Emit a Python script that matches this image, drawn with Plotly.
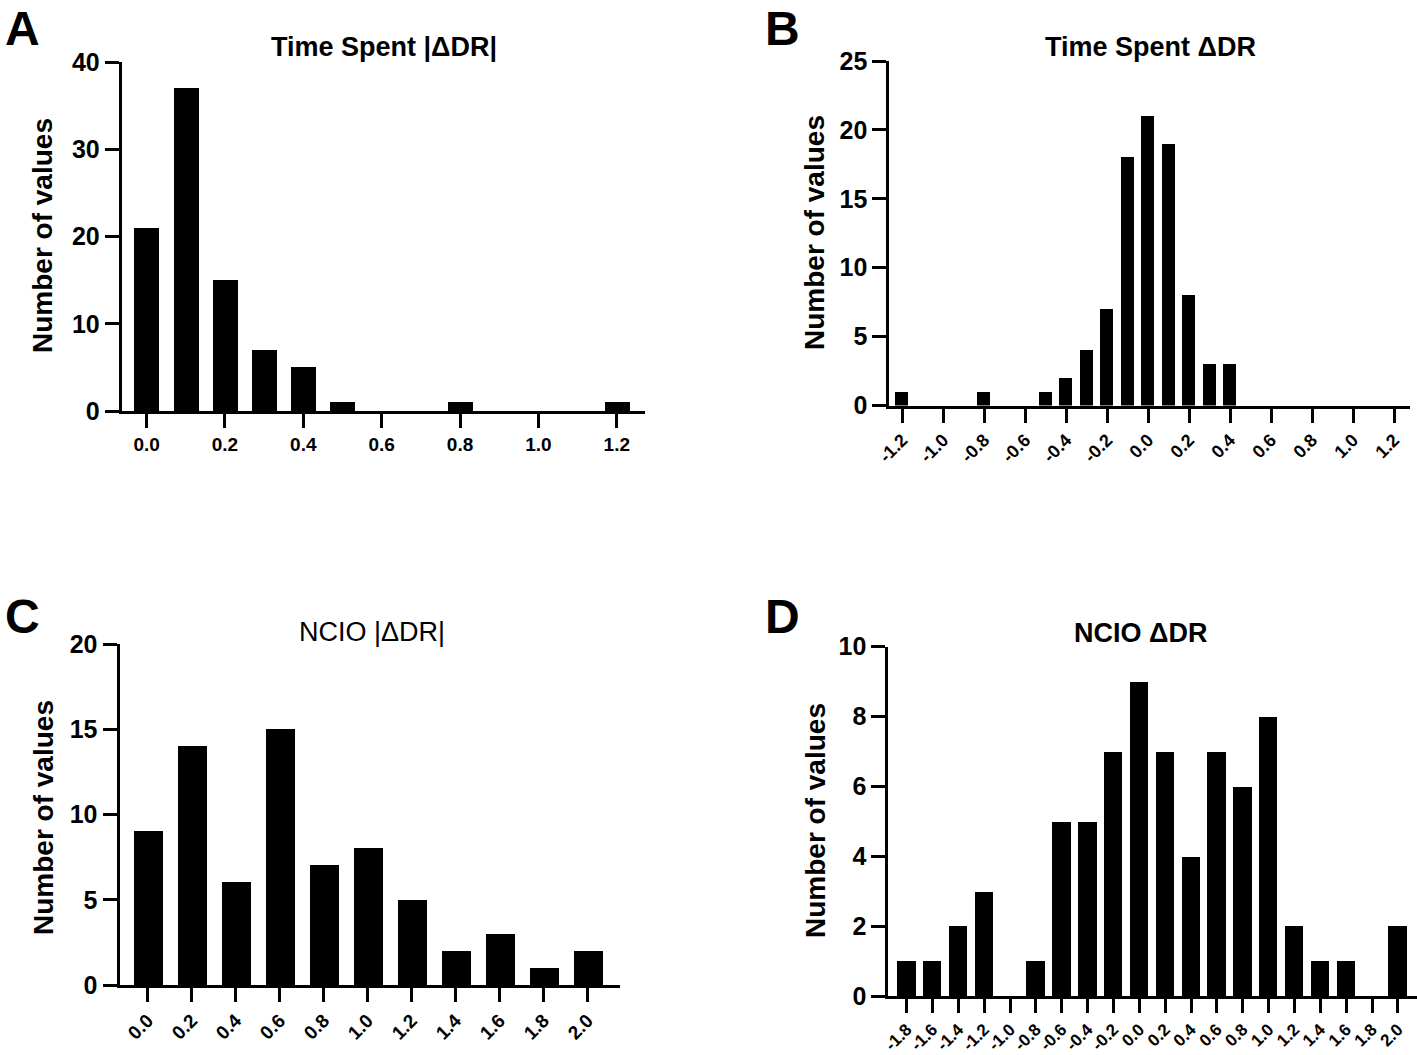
import plotly.graph_objects as go
from plotly.subplots import make_subplots

# panel A - Time Spent |dDR|
a_x = [0.0, 0.1, 0.2, 0.3, 0.4, 0.5, 0.8, 1.2]
a_counts = [21, 37, 15, 7, 5, 1, 1, 1]
a_ticks = [0.0, 0.2, 0.4, 0.6, 0.8, 1.0, 1.2]

# panel B - Time Spent dDR
b_x = [-1.2, -0.8, -0.5, -0.4, -0.3, -0.2, -0.1, 0.0, 0.1, 0.2, 0.3, 0.4]
b_counts = [1, 1, 1, 2, 4, 7, 18, 21, 19, 8, 3, 3]
b_ticks = [-1.2, -1.0, -0.8, -0.6, -0.4, -0.2, 0.0, 0.2, 0.4, 0.6, 0.8, 1.0, 1.2]

# panel C - NCIO |dDR|
c_x = [0.0, 0.2, 0.4, 0.6, 0.8, 1.0, 1.2, 1.4, 1.6, 1.8, 2.0]
c_counts = [9, 14, 6, 15, 7, 8, 5, 2, 3, 1, 2]
c_ticks = c_x

# panel D - NCIO dDR
d_x = [-1.8, -1.6, -1.4, -1.2, -1.0, -0.8, -0.6, -0.4, -0.2, 0.0,
       0.2, 0.4, 0.6, 0.8, 1.0, 1.2, 1.4, 1.6, 1.8, 2.0]
d_counts = [1, 1, 2, 3, 0, 1, 5, 5, 7, 9, 7, 4, 7, 6, 8, 2, 1, 1, 0, 2]
d_ticks = d_x

W, H = 1417, 1055
FONT = "Liberation Sans, Arial, sans-serif"


def px(x):
    return x / W


def py(y):
    return 1 - y / H


fig = make_subplots(rows=2, cols=2)

panels = [
    # data, ticks, bar width, x range, y range, y dtick, domains (px), tick font, angle
    (a_x, a_counts, a_ticks, 0.0635, [-0.0635, 1.272], [0, 40], 10,
     [121.7, 645], [62, 411], 19, 0),
    (b_x, b_counts, b_ticks, 0.063, [-1.263, 1.278], [0, 25], 5,
     [889.3, 1410], [61, 405.5], 18, -45),
    (c_x, c_counts, c_ticks, 0.131, [-0.128, 2.145], [0, 20], 5,
     [119.5, 619.5], [644.3, 985], 19, -45),
    (d_x, d_counts, d_ticks, 0.142, [-1.942, 2.148], [0, 10], 2,
     [888.3, 1417], [646.7, 996], 17, -45),
]

for i, (xs, ys, ticks, bw, xr, yr, dt, xd, yd, tf, ang) in enumerate(panels):
    r, c = i // 2 + 1, i % 2 + 1
    fig.add_trace(go.Bar(x=xs, y=ys, width=bw, marker=dict(color="black", line=dict(width=0)),
                         showlegend=False), row=r, col=c)
    fig.update_xaxes(range=xr, domain=[px(xd[0]), px(xd[1])], tickvals=ticks,
                     ticktext=[f"{t:.1f}" for t in ticks], tickangle=ang,
                     showline=True, linewidth=3, linecolor="black", ticks="outside",
                     ticklen=14, tickwidth=3, tickcolor="black", showgrid=False,
                     zeroline=False, automargin=False,
                     tickfont=dict(family=FONT, size=tf, color="black", weight="bold"),
                     row=r, col=c)
    fig.update_yaxes(range=yr, domain=[py(yd[1]), py(yd[0])], dtick=dt, tick0=0,
                     showline=True, linewidth=3, linecolor="black", ticks="outside",
                     ticklen=14, tickwidth=3, tickcolor="black", showgrid=False,
                     zeroline=False, automargin=False,
                     tickfont=dict(family=FONT, size=25, color="black", weight="bold"),
                     row=r, col=c)

titles = [
    ("<b>Time Spent |ΔDR|</b>", 384, 47),
    ("<b>Time Spent ΔDR</b>", 1150, 47),
    ("NCIO |ΔDR|", 372, 632),
    ("<b>NCIO ΔDR</b>", 1140, 633),
]
for text, x, y in titles:
    fig.add_annotation(text=text, x=px(x), y=py(y), xref="paper", yref="paper",
                       showarrow=False, xanchor="center", yanchor="middle",
                       font=dict(family=FONT, size=27, color="black"))

# y axis titles
ytitles = [(43, 236), (815, 233), (43, 818), (815, 821)]
for x, y in ytitles:
    fig.add_annotation(text="<b>Number of values</b>", x=px(x), y=py(y), xref="paper",
                       yref="paper", showarrow=False, textangle=-90,
                       xanchor="center", yanchor="middle",
                       font=dict(family=FONT, size=28, color="black"))

letters = [("A", 22, 0), ("B", 782, 0), ("C", 22, 588), ("D", 782, 588)]
for text, x, y in letters:
    fig.add_annotation(text=f"<b>{text}</b>", x=px(x), y=py(y), xref="paper", yref="paper",
                       showarrow=False, xanchor="center", yanchor="top",
                       font=dict(family=FONT, size=48, color="black"))

fig.update_layout(width=W, height=H, margin=dict(l=0, r=0, t=0, b=0),
                  plot_bgcolor="white", paper_bgcolor="white", bargap=0)

fig.write_html("out.html", config={"displayModeBar": False},
               post_script="document.body.style.margin='0';")
